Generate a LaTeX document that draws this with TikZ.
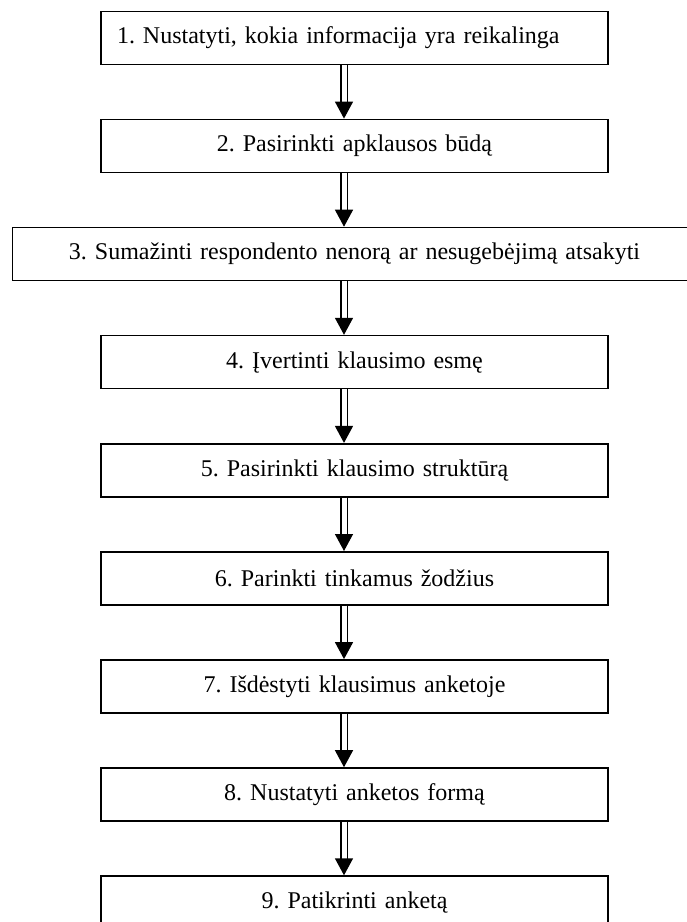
\documentclass[tikz,border=0pt]{standalone}
\usepackage{fontspec}
\setmainfont{Liberation Serif}
\usetikzlibrary{arrows.meta,positioning}
\frenchspacing

\tikzset{stepbox/.style={draw, line width=1.6pt, text width=475pt, inner xsep=16pt, inner ysep=0pt,
  minimum height=53pt, align=center, font=\fontsize{24}{28}\selectfont},
  flow/.style={->, double, double distance=5pt, line width=1.4pt}}

\begin{document}
\begin{tikzpicture}[x=1pt, y=-1pt, node distance=53.5pt, >={Triangle[length=17pt,width=18pt]}]
\useasboundingbox (0,0) rectangle (687,922);
\node [stepbox, align=left, anchor=north] (b1) at (354.5,10.5) {1. Nustatyti, kokia informacija yra reikalinga};
\node [stepbox, below=of b1] (b2) {2. Pasirinkti apklausos būdą};
\node [stepbox, below=of b2, text width=652pt] (b3) {3. Sumažinti respondento nenorą ar nesugebėjimą atsakyti};
\node [stepbox, below=of b3] (b4) {4. Įvertinti klausimo esmę};
\node [stepbox, below=of b4] (b5) {5. Pasirinkti klausimo struktūrą};
\node [stepbox, below=of b5] (b6) {6. Parinkti tinkamus žodžius};
\node [stepbox, below=of b6] (b7) {7. Išdėstyti klausimus anketoje};
\node [stepbox, below=of b7] (b8) {8. Nustatyti anketos formą};
\node [stepbox, below=of b8] (b9) {9. Patikrinti anketą};
% connectors
\foreach \a/\b in {b1/b2,b2/b3,b3/b4,b4/b5,b5/b6,b6/b7,b7/b8,b8/b9}
  \draw [flow] ([xshift=-10.5pt]\a.south) -- ([xshift=-10.5pt]\b.north);
\end{tikzpicture}
\end{document}
